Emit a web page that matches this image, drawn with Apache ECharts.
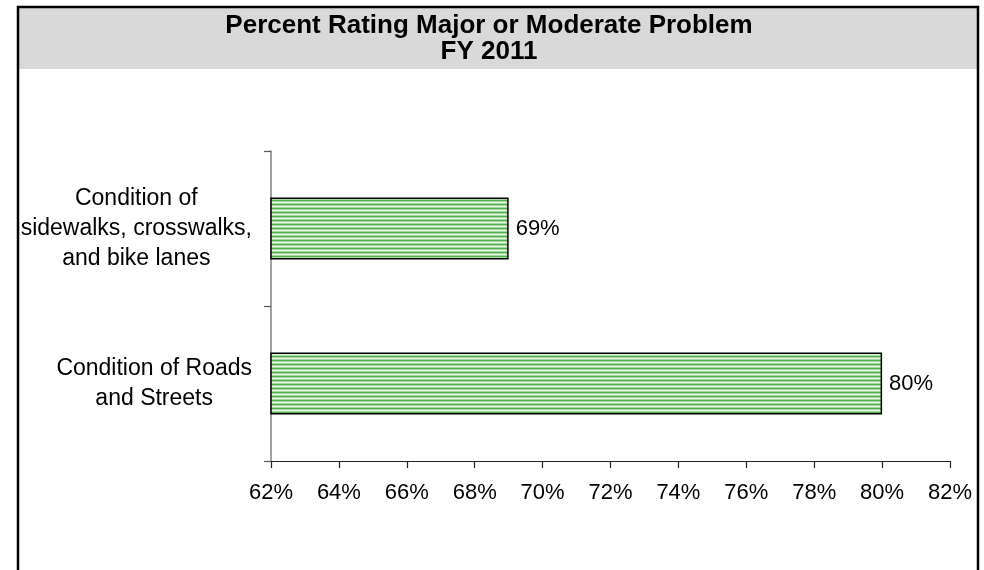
<!DOCTYPE html>
<html>
<head>
<meta charset="utf-8">
<script src="https://cdn.jsdelivr.net/npm/echarts@6/dist/echarts.min.js"></script>
<style>
  html, body { margin: 0; padding: 0; background: #fff; }
  #chart { width: 984px; height: 570px; }
</style>
</head>
<body>
<div id="chart"></div>
<script>
// Survey categories, bottom to top as drawn on the category axis
const categories = [
  'Condition of Roads\nand Streets',
  'Condition of\nsidewalks, crosswalks,\nand bike lanes'
];
// Percent rating each item a major or moderate problem
const percentValues = [80, 69];
// Value axis range and step (percent)
const axisMin = 62;
const axisMax = 82;
const axisStep = 2;
const titleLines = ['Percent Rating Major or Moderate Problem', 'FY 2011'];

// Horizontal green stripe fill for the bars
function stripePattern() {
  const c = document.createElement('canvas');
  c.width = 4;
  c.height = 4;
  const ctx = c.getContext('2d');
  const rows = ['#52ad52', '#a6d9a0', '#e8f5e5', '#a6d9a0'];
  rows.forEach((col, i) => {
    ctx.fillStyle = col;
    ctx.fillRect(0, i, 4, 1);
  });
  return c;
}

const chart = echarts.init(document.getElementById('chart'), null, { renderer: 'canvas' });
const FONT = 'Liberation Sans, Arial, sans-serif';

chart.setOption({
  animation: false,
  backgroundColor: '#ffffff',
  graphic: [
    {
      type: 'rect', z: 0,
      shape: { x: 19, y: 8, width: 958, height: 61 },
      style: { fill: '#d9d9d9' }
    },
    {
      type: 'rect', z: 1,
      shape: { x: 18, y: 7, width: 960, height: 620 },
      style: { fill: 'none', stroke: '#000', lineWidth: 2.5 }
    }
  ],
  title: {
    text: titleLines.join('\n'),
    left: 484,
    top: 8,
    textAlign: 'center',
    textStyle: {
      fontFamily: FONT,
      fontWeight: 'bold',
      fontSize: 26,
      lineHeight: 26,
      color: '#000'
    }
  },
  grid: {
    left: 271,
    right: 34,
    top: 151,
    bottom: 109,
    containLabel: false,
    outerBoundsMode: 'none'
  },
  xAxis: {
    type: 'value',
    min: axisMin,
    max: axisMax,
    interval: axisStep,
    axisLine: { show: true, lineStyle: { color: '#222', width: 1.2 } },
    axisTick: { show: true, length: 7, lineStyle: { color: '#222', width: 1.2 } },
    splitLine: { show: false },
    axisLabel: {
      formatter: '{value}%',
      fontFamily: FONT,
      fontSize: 22,
      color: '#000',
      margin: 21
    }
  },
  yAxis: {
    type: 'category',
    data: categories,
    axisLine: { show: true, lineStyle: { color: '#808080', width: 1.5 } },
    axisTick: { show: true, length: 7, lineStyle: { color: '#555', width: 1.2 } },
    axisLabel: {
      margin: 19,
      align: 'right',
      // each line centred within the right-aligned label block
      formatter: (v) => v.split('\n').map((l) => '{c|' + l + '}').join('\n'),
      rich: {
        c: {
          align: 'center',
          fontFamily: FONT,
          fontSize: 23,
          lineHeight: 30,
          color: '#000'
        }
      }
    }
  },
  series: [
    {
      type: 'bar',
      data: percentValues,
      barCategoryGap: '60%',
      itemStyle: {
        color: { image: stripePattern(), repeat: 'repeat' },
        borderColor: '#000',
        borderWidth: 1.5
      },
      label: {
        show: true,
        position: 'right',
        distance: 7,
        formatter: '{c}%',
        fontFamily: FONT,
        fontSize: 22,
        color: '#000'
      }
    }
  ]
});
</script>
</body>
</html>
